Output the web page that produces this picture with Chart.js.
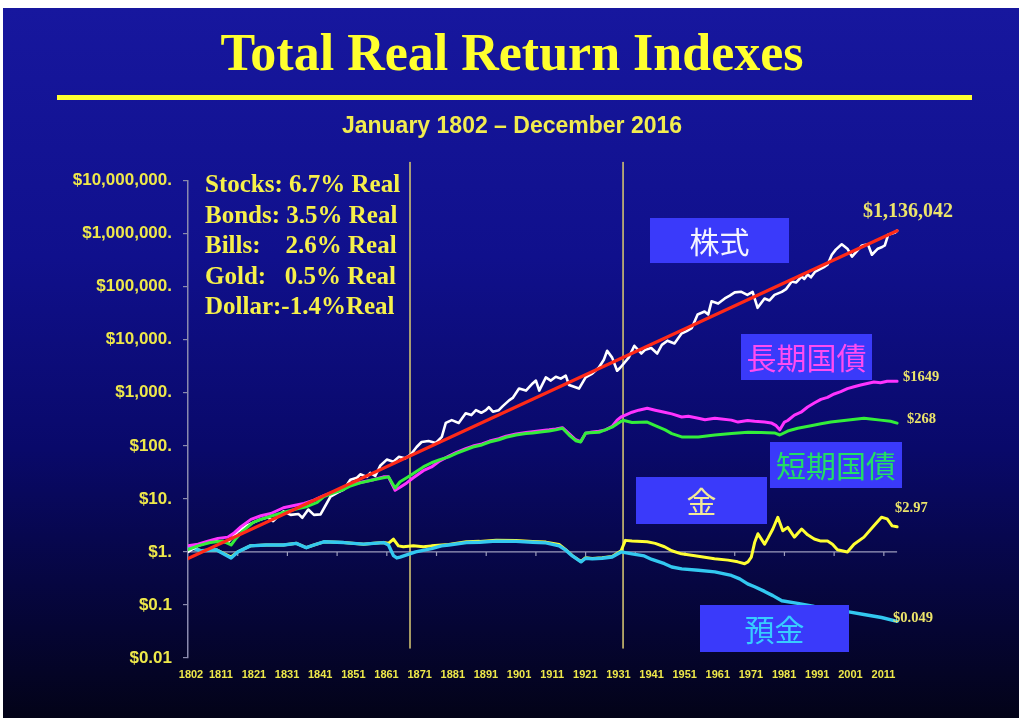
<!DOCTYPE html>
<html><head><meta charset="utf-8">
<script src="https://cdn.jsdelivr.net/npm/chart.js@4/dist/chart.umd.min.js"></script>
<style>html,body{margin:0;padding:0;background:#fff;}canvas{display:block;}</style>
</head><body>
<canvas id="c" width="1024" height="725"></canvas>
<script>
const titleText = 'Total Real Return Indexes';
const subtitleText = 'January 1802 \u2013 December 2016';
const statLines = ['Stocks: 6.7% Real', 'Bonds: 3.5% Real', 'Bills:    2.6% Real', 'Gold:   0.5% Real', 'Dollar:-1.4%Real'];
const xTickYears = [1802,1811,1821,1831,1841,1851,1861,1871,1881,1891,1901,1911,1921,1931,1941,1951,1961,1971,1981,1991,2001,2011];
const yTickValues = [0.01,0.1,1,10,100,1000,10000,100000,1000000,10000000];
const yTickLabels = ['$0.01','$0.1','$1.','$10.','$100.','$1,000.','$10,000.','$100,000.','$1,000,000.','$10,000,000.'];
const unitLineTickYears = [1817,1832,1847,1862,1877,1892,1907,1922,1937,1952,1967,1982,1997,2012];
const markerYears = [1869, 1933.3];
const markerRange = [0.0155, 2.2e7];
const xRange = [1802, 2016];
const xAxisRoom = 2054.3; // axis extends past data to leave the right margin for the end labels

const trendYears = [1802, 2016];
const trendValues = [0.75, 1136042];

const stocksYears = [1802,1805,1808,1811,1814,1817,1820,1823,1826,1827.7,1829,1830.8,1833,1835.3,1836.5,1838.3,1840,1842,1843.5,1845,1847,1849,1851,1853,1854,1856,1857,1858.5,1860,1862,1864,1865.6,1867.5,1869.2,1871,1872.5,1874.6,1876.8,1878.6,1879.8,1881.6,1883.7,1885.8,1887.5,1888.9,1890.5,1891.9,1892.8,1894,1895.8,1897,1898.9,1900,1901.9,1904,1906,1907,1908,1910,1911.5,1913,1914.5,1916,1917,1920,1922,1924,1926,1927.5,1928.5,1930,1931.5,1932.5,1935,1936.7,1938.8,1940,1941.8,1943.6,1945,1946.7,1948.8,1950.9,1952.5,1954,1955.8,1957.9,1959,1960,1962,1964,1965.5,1967,1969,1970.8,1972.4,1973.9,1976,1977.5,1979,1981.2,1982.5,1984.2,1985.5,1987.2,1988,1989,1990,1991.2,1992.5,1994.2,1995,1996.3,1997.5,1999.3,2001,2002.4,2004,2005.4,2007.2,2008.4,2010.2,2011.5,2012.3,2013.3,2015.4,2016];
const stocksValues = [1.0,1.3,1.5,1.6,1.5,2.4,3.2,3.9,4.5,3.8,4.6,5.8,5.0,5.2,4.4,6.3,5.0,5.1,7.5,11,13,15,23,25,29,26,31,27,42,55,50,62,58,68,95,118,123,113,147,270,305,270,410,380,470,420,470,535,440,470,560,720,800,1200,1100,1500,1700,1100,1950,1700,2000,1850,2100,1400,1200,1950,2300,3000,4200,6200,4600,2600,3000,4600,7700,5500,6500,7000,5500,8000,9600,8500,13000,14500,16500,30000,34000,30000,53000,48000,60000,68000,78000,80000,70000,80000,40000,60000,55000,70000,80000,90000,125000,120000,155000,140000,170000,150000,190000,210000,240000,260000,400000,500000,630000,520000,370000,480000,600000,630000,400000,520000,560000,600000,950000,1050000,1136042];

const bondsYears = [1802,1805,1808,1811,1814,1816,1818,1821,1824,1827,1830.8,1834,1837,1840,1843,1846,1849,1852,1855,1858,1861,1862.5,1864.5,1866,1868,1870,1873,1875.5,1878,1880.7,1883,1885.8,1888,1890.7,1893,1895.8,1898,1901,1904,1906,1909,1911,1913,1915,1917,1919,1920.5,1922,1924,1926,1928,1930,1931.5,1932.7,1934,1936,1938,1940.6,1943,1945.8,1948,1951,1953,1956,1958,1961,1963,1966,1968,1970.9,1973,1976,1978,1979.5,1980.6,1982,1983,1985,1987,1989,1991,1993,1995,1997,1999,2001,2003,2005,2007,2009,2011,2013,2016];
const bondsValues = [1.3,1.4,1.6,1.8,1.9,2.3,3.0,4.1,4.8,5.3,6.8,7.5,8.2,9.5,11.5,13.5,16,19,21,23,26,26,14.5,16.5,20,25,34,40,52,64,75,88,99,109,123,136,152,168,178,184,194,200,208,220,170,130,120,172,182,188,200,232,305,350,380,430,470,510,470,430,400,350,360,330,310,330,320,305,280,300,290,280,270,240,200,280,300,380,430,540,640,750,820,950,1050,1200,1300,1400,1500,1600,1550,1650,1649];

const billsYears = [1802,1805,1808.7,1812.6,1815,1816.5,1818.6,1821.7,1824,1827,1831,1835,1838,1841,1843,1846,1849,1851,1854,1858,1861,1862.5,1864.5,1866,1868,1870,1873,1875.5,1878,1880.7,1883,1885.8,1888,1890.7,1893,1895.8,1898,1901,1904,1906,1909,1911,1913,1915,1917,1919,1920.5,1922,1926,1930,1932.7,1933.6,1936,1940.6,1943,1946,1948,1951,1956,1961,1966,1971,1975,1979,1980.6,1983,1986,1990,1993,1996,2000,2006,2008,2011,2014,2016];
const billsValues = [1.1,1.3,1.5,1.6,1.35,1.8,2.5,3.6,4.1,4.7,5.6,6.5,7.2,8.6,11,13,15,17.5,20,23,25,26,16,21,25,30,40,48,55,62,72,84,95,104,118,130,145,160,170,175,185,190,200,215,160,125,118,175,180,225,290,300,275,280,240,200,170,147,147,160,170,180,178,175,160,190,215,240,260,280,300,330,320,305,290,268];

const goldYears = [1802,1806,1810.5,1815,1817,1820.8,1825.6,1830.8,1834.7,1837.7,1840,1843,1849,1855,1858,1861,1862.5,1864,1865.5,1867,1870,1873,1875.5,1880.7,1886,1890,1895,1901,1906,1910,1914,1916,1918,1920.6,1922,1924,1927,1930,1932.7,1934,1936,1940.6,1943,1945.8,1948,1950.9,1955,1960.9,1965,1967.9,1970,1971,1972,1973,1974,1976,1977,1978.5,1980,1981.5,1983,1985,1987.2,1989,1991,1993,1995,1996.5,1998,2001,2003,2006,2009,2011.3,2013,2014.5,2016];
const goldValues = [1.25,1.05,1.1,0.8,1.0,1.3,1.35,1.35,1.45,1.2,1.35,1.55,1.5,1.4,1.45,1.5,1.45,1.75,1.3,1.25,1.3,1.25,1.3,1.38,1.56,1.58,1.66,1.64,1.58,1.53,1.38,1.1,0.85,0.66,0.78,0.75,0.78,0.82,1.05,1.65,1.6,1.55,1.45,1.25,1.05,0.92,0.85,0.74,0.7,0.65,0.6,0.65,0.8,1.5,2.2,1.4,1.8,2.7,4.5,2.5,2.9,1.9,2.7,2.1,1.75,1.6,1.6,1.4,1.1,1.0,1.4,1.9,3.1,4.5,4.2,3.1,2.97];

const dollarYears = [1802,1806,1810.5,1815,1817,1820.8,1825.6,1830.8,1834.7,1837.7,1840,1843,1849,1855,1858,1861,1862.5,1864,1865,1866,1868,1870.7,1875.5,1878.5,1880.7,1886,1890,1895,1901,1906,1910,1914,1916,1918,1920.6,1922,1924,1927,1930,1932.7,1936,1939.7,1942,1945.8,1948,1951,1956,1961,1966,1968.5,1970.9,1973,1976,1978.5,1981.2,1986,1991,1996,2001,2006,2011.3,2016];
const dollarValues = [1.25,1.05,1.1,0.77,1.0,1.3,1.35,1.35,1.45,1.2,1.35,1.55,1.5,1.4,1.45,1.5,1.35,0.85,0.77,0.8,0.88,1.0,1.15,1.3,1.35,1.5,1.52,1.6,1.58,1.52,1.48,1.3,1.08,0.84,0.65,0.76,0.74,0.76,0.8,1.0,0.92,0.84,0.72,0.6,0.52,0.48,0.45,0.42,0.36,0.31,0.25,0.22,0.18,0.15,0.12,0.107,0.094,0.084,0.075,0.066,0.058,0.049];

const endLabels = ['$1,136,042', '$1649', '$268', '$2.97', '$0.049'];
const jpLabels = ['株式', '長期国債', '短期国債', '金', '預金'];

const pts = (xs, ys) => xs.map((x, i) => ({x: x, y: ys[i]}));

const lineStyle = (color, width) => ({
  borderColor: color, backgroundColor: color, borderWidth: width,
  pointRadius: 0, tension: 0, fill: false, borderJoinStyle: 'round', borderCapStyle: 'round'
});

const datasets = [
  Object.assign({label: 'Trend', data: pts(trendYears, trendValues)}, lineStyle('#ff2a18', 3.2)),
  Object.assign({label: 'Bills', data: pts(billsYears, billsValues)}, lineStyle('#33ee3a', 3)),
  Object.assign({label: 'Bonds', data: pts(bondsYears, bondsValues)}, lineStyle('#ff33ff', 3)),
  Object.assign({label: 'Stocks', data: pts(stocksYears, stocksValues)}, lineStyle('#ffffff', 2.6)),
  Object.assign({label: 'Dollar', data: pts(dollarYears, dollarValues)}, lineStyle('#33c8f0', 3.4)),
  Object.assign({label: 'Gold', data: pts(goldYears, goldValues)}, lineStyle('#ffff33', 3)),
];
markerYears.forEach((yr, i) => {
  datasets.push(Object.assign({label: 'Marker' + i, clip: false,
    data: [{x: yr, y: markerRange[0]}, {x: yr, y: markerRange[1]}]}, lineStyle('#cfc070', 1.6)));
});

const seriesEnds = {Stocks: [endLabels[0], 11, -19, 'center', 20], Bonds: [endLabels[1], 6, -4, 'left', 14.5], Bills: [endLabels[2], 10, -4, 'left', 14.5], Gold: [endLabels[3], -2, -19, 'left', 14.5], Dollar: [endLabels[4], -4, -3, 'left', 14.5]};

const jpBoxes = [
  {text: jpLabels[0], x: 650, y: 218, w: 139, h: 45, color: '#f4f4ff'},
  {text: jpLabels[1], x: 741, y: 334, w: 131, h: 46, color: '#ff4cf2'},
  {text: jpLabels[2], x: 770, y: 442, w: 132, h: 46, color: '#22dd66'},
  {text: jpLabels[3], x: 636, y: 477, w: 131, h: 47, color: '#f2ea98'},
  {text: jpLabels[4], x: 700, y: 605, w: 149, h: 47, color: '#38ccff'},
];

const decor = {
  id: 'decor',
  beforeDraw(chart) {
    const ctx = chart.ctx;
    ctx.save();
    ctx.fillStyle = '#ffffff';
    ctx.fillRect(0, 0, chart.width, chart.height);
    const g = ctx.createLinearGradient(0, 8, 0, 718);
    g.addColorStop(0, '#17179e');
    g.addColorStop(0.35, '#10108c');
    g.addColorStop(0.62, '#09096a');
    g.addColorStop(1, '#030318');
    ctx.fillStyle = g;
    ctx.fillRect(3, 8, 1016, 710);
    ctx.fillStyle = '#ffff30';
    ctx.fillRect(57, 95, 915, 5);
    ctx.restore();
  },
  beforeDatasetsDraw(chart) {
    const ctx = chart.ctx, xs = chart.scales.x, ys = chart.scales.y, a = chart.chartArea;
    const y1 = ys.getPixelForValue(1);
    ctx.save();
    ctx.strokeStyle = '#9c9cbc';
    ctx.lineWidth = 1.2;
    ctx.beginPath();
    ctx.moveTo(a.left, y1); ctx.lineTo(xs.getPixelForValue(xRange[1]), y1);
    unitLineTickYears.forEach(yr => {
      const px = xs.getPixelForValue(yr);
      ctx.moveTo(px, y1); ctx.lineTo(px, y1 + 4);
    });
    ctx.stroke();
    ctx.restore();
  },
  afterDatasetsDraw(chart) {
    const ctx = chart.ctx, xs = chart.scales.x, ys = chart.scales.y;
    ctx.save();
    ctx.fillStyle = '#f6f04a';
    ctx.font = 'bold 25px "Liberation Serif"';
    ctx.textAlign = 'left';
    ctx.textBaseline = 'middle';
    statLines.forEach((s, i) => ctx.fillText(s, 205, 186 + i * 30.5));
    chart.data.datasets.forEach(ds => {
      const e = seriesEnds[ds.label];
      if (!e) return;
      const last = ds.data[ds.data.length - 1];
      const px = xs.getPixelForValue(last.x), py = ys.getPixelForValue(last.y);
      ctx.fillStyle = '#ece46a';
      ctx.font = 'bold ' + e[4] + 'px "Liberation Serif"';
      ctx.textAlign = e[3];
      ctx.fillText(e[0], px + e[1], py + e[2]);
    });
    jpBoxes.forEach(b => {
      ctx.fillStyle = '#3a3afa';
      ctx.fillRect(b.x, b.y, b.w, b.h);
      ctx.fillStyle = b.color;
      ctx.font = '30px "Noto Sans CJK JP"';
      ctx.textAlign = 'center';
      ctx.fillText(b.text, b.x + b.w / 2, b.y + b.h / 2 + 1);
    });
    ctx.restore();
  }
};

new Chart(document.getElementById('c'), {
  type: 'line',
  data: {datasets: datasets},
  plugins: [decor],
  options: {
    responsive: false, animation: false, devicePixelRatio: 1,
    layout: {padding: {left: 0, right: 0, top: 0, bottom: 0}},
    plugins: {
      legend: {display: false},
      tooltip: {enabled: false},
      title: {display: true, text: titleText, color: '#ffff2e',
        font: {family: 'Liberation Serif', size: 52, weight: 'bold', lineHeight: 1.2},
        padding: {top: 25, bottom: 10}},
      subtitle: {display: true, text: subtitleText, color: '#f2ec4e',
        font: {family: 'Liberation Sans', size: 23, weight: 'bold', lineHeight: 1.2},
        padding: {top: 15, bottom: 40.6}}
    },
    scales: {
      x: {
        type: 'linear', min: xRange[0], max: xAxisRoom,
        afterBuildTicks: s => { s.ticks = xTickYears.map(v => ({value: v})); },
        afterFit: s => { s.height = 67; },
        grid: {display: false, drawTicks: false},
        border: {display: false},
        ticks: {autoSkip: false, maxRotation: 0, padding: 10, labelOffset: 3, color: '#eee84a',
          font: {family: 'Liberation Sans', size: 11, weight: 'bold'},
          callback: v => String(v)}
      },
      y: {
        type: 'logarithmic', min: 0.01, max: 10000000,
        afterBuildTicks: s => { s.ticks = yTickValues.map(v => ({value: v})); },
        afterFit: s => { s.width = 188; },
        grid: {display: true, drawOnChartArea: false, drawTicks: true, tickLength: 5, color: '#8a8aae', lineWidth: 1.2},
        border: {display: true, color: '#8a8aae', width: 1.5},
        ticks: {padding: 11, color: '#eee84a', autoSkip: false,
          font: {family: 'Liberation Sans', size: 17, weight: 'bold'},
          callback: (v, i) => yTickLabels[i]}
      }
    }
  }
});
</script>
</body></html>
